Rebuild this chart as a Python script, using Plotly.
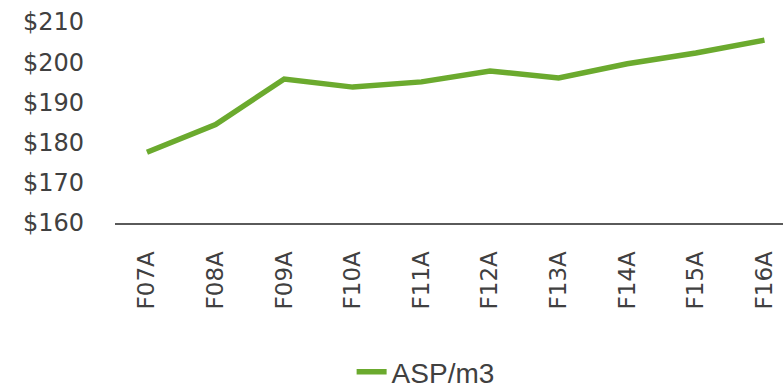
import plotly.graph_objects as go

categories = ["F07A", "F08A", "F09A", "F10A", "F11A", "F12A", "F13A", "F14A", "F15A", "F16A"]
asp_values = [177.6, 184.5, 195.8, 193.8, 195.1, 197.8, 196.1, 199.6, 202.3, 205.5]
y_ticks = [160, 170, 180, 190, 200, 210]
y_tick_labels = ["$160", "$170", "$180", "$190", "$200", "$210"]

fig = go.Figure()
fig.add_trace(go.Scatter(
    x=categories, y=asp_values, mode="lines", name="ASP/m3",
    line=dict(color="#6BAA2E", width=5.5),
))

fig.update_layout(
    width=783, height=388,
    margin=dict(l=115, r=0, t=17, b=165, autoexpand=False),
    paper_bgcolor="white", plot_bgcolor="white",
    font=dict(family="DejaVu Sans", color="#404040"),
    showlegend=True,
    legend=dict(orientation="h", x=0.465, xanchor="center",
                yref="container", y=0.041, yanchor="middle",
                font=dict(family="Liberation Sans", size=28, color="#404040"),
                bgcolor="rgba(0,0,0,0)"),
    xaxis=dict(type="category", range=[-0.466, 9.27], showgrid=False, zeroline=False,
               showline=True, linecolor="#5a5a5a", linewidth=2,
               tickangle=-90, tickfont=dict(size=23, color="#404040"),
               ticks="", ticklabelstandoff=17, automargin=False),
    yaxis=dict(range=[160, 211.24], tickvals=y_ticks, ticktext=y_tick_labels,
               showgrid=False, zeroline=False, showline=False, automargin=False,
               tickfont=dict(size=24, color="#404040"), ticks="", ticklabelstandoff=30),
)

fig.write_html("out.html")
